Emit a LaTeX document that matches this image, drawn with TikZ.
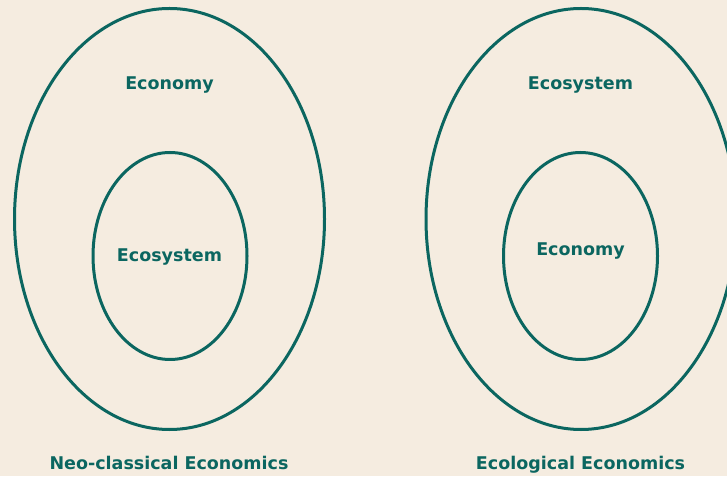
\documentclass[tikz,border=0pt]{standalone}
\usepackage{fontspec}
\setmainfont{DejaVu Sans}
\usetikzlibrary{shapes.geometric}
\definecolor{teal1}{HTML}{0B6660}
\definecolor{bg}{HTML}{F5ECE0}
\begin{document}
\begin{tikzpicture}[x=1pt,y=1pt,
  ring/.style={draw=teal1,line width=3pt,ellipse,inner sep=0pt},
  lbl/.style={text=teal1,font=\fontsize{17.5}{21}\selectfont\bfseries,inner sep=0pt,anchor=base}]
\fill[bg] (0,0) rectangle (727,476);
\useasboundingbox (0,0) rectangle (727,476);
\begin{scope}
\clip (0,0) rectangle (727,476);
\node[ring,minimum width=310,minimum height=421] (lo) at (169.5,257) {};
\node[ring,minimum width=154,minimum height=207] (li) at (170,220) {};
\node[ring,minimum width=310,minimum height=421] (ro) at (581,257) {};
\node[ring,minimum width=154,minimum height=207] (ri) at (580.5,220) {};
\end{scope}
\node[lbl] (t1) at (169.5,386) {Economy};
\node[lbl] (t2) at (169.5,214) {Ecosystem};
\node[lbl] (t3) at (580.5,386) {Ecosystem};
\node[lbl] (t4) at (580.5,220.5) {Economy};
\node[lbl] (b1) at (169,7) {Neo-classical Economics};
\node[lbl] (b2) at (580.5,7) {Ecological Economics};
\end{tikzpicture}
\end{document}
